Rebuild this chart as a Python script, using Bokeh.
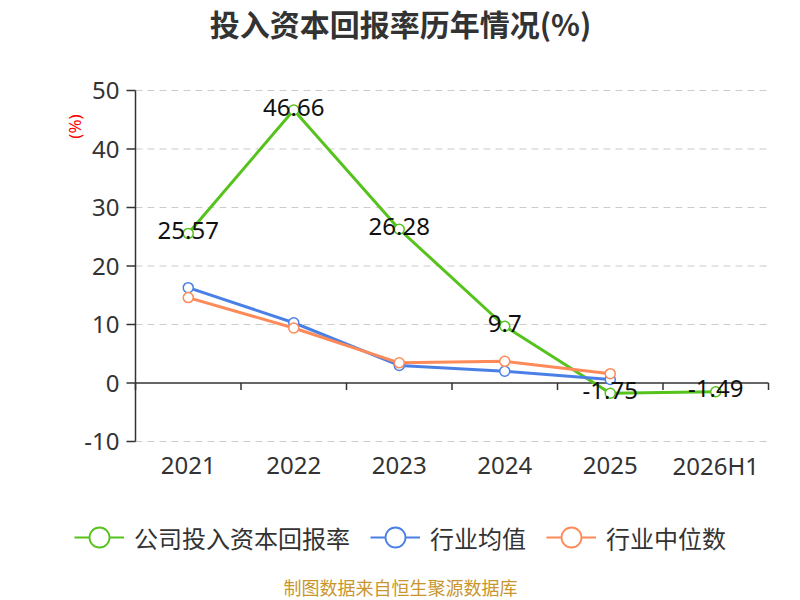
import math
from bokeh.plotting import figure
from bokeh.models import (Range1d, Legend, LegendItem, Label, ColumnDataSource)
from bokeh.embed import file_html
from bokeh.resources import INLINE
from bokeh.core.properties import value

# ---------------- data ----------------
categories = ["2021", "2022", "2023", "2024", "2025", "2026H1"]
company = [25.57, 46.66, 26.28, 9.7, -1.75, -1.49]
industry_avg = [16.3, 10.3, 3.0, 2.0, 0.6]
industry_median = [14.6, 9.4, 3.45, 3.7, 1.6]
y_ticks = [-10, 0, 10, 20, 30, 40, 50]
series_names = ["公司投入资本回报率", "行业均值", "行业中位数"]
title_text = "投入资本回报率历年情况(%)"
footer_text = "制图数据来自恒生聚源数据库"
y_unit = "(%)"

# ---------------- style / layout ----------------
W, H = 800, 600
PLOT_L, PLOT_R, PLOT_T, PLOT_B = 135, 768, 90, 441   # pixel box of the plot area
GREEN = "#56c21c"
BLUE = "#4a80e6"
ORANGE = "#fd8a58"
TXT = "#333333"
LATIN = "Noto Sans"
CJK = "Noto Sans CJK SC"
NAN = float("nan")

ncat = len(categories)
ymin, ymax = min(y_ticks), max(y_ticks)
kx = (PLOT_R - PLOT_L) / ncat          # px per category
ky = (PLOT_B - PLOT_T) / (ymax - ymin)  # px per y unit


def dx(px):
    return (px - PLOT_L) / kx


def dy(py):
    return ymax - (py - PLOT_T) / ky


pos = [i + 0.5 for i in range(ncat)]
bounds = list(range(ncat + 1))

p = figure(width=W, height=H, output_backend="svg", toolbar_location=None,
           x_range=Range1d(dx(0), dx(W)), y_range=Range1d(dy(H), dy(0)),
           x_axis_location=None, y_axis_location=None, min_border=0)
p.outline_line_color = None
p.xgrid.grid_line_color = None
p.ygrid.grid_line_color = None
p.background_fill_color = "white"
p.border_fill_color = "white"

# grid lines (dashed) at the y ticks except the zero axis
grid_y = [t for t in y_ticks if t != 0]
p.segment(x0=[0] * len(grid_y), y0=grid_y, x1=[ncat] * len(grid_y), y1=grid_y,
          line_color="#cccccc", line_width=1.2, line_dash="7 5")

# y axis line, ticks and labels
p.segment(x0=[0], y0=[ymin], x1=[0], y1=[ymax], line_color=TXT, line_width=1.5)
p.segment(x0=[0] * len(y_ticks), y0=y_ticks, x1=[-9 / kx] * len(y_ticks), y1=y_ticks,
          line_color=TXT, line_width=1.5)
p.text(x=[0] * len(y_ticks), y=y_ticks, text=[str(t) for t in y_ticks],
       x_offset=-16, text_align="right", text_baseline="middle",
       text_font=value(LATIN), text_font_size="24px", text_color=TXT)

# zero line with boundary ticks
p.segment(x0=[0], y0=[0], x1=[ncat], y1=[0], line_color=TXT, line_width=1.5)
p.segment(x0=bounds, y0=[0] * len(bounds), x1=bounds, y1=[-7 / ky] * len(bounds),
          line_color=TXT, line_width=1.5)

# category labels
p.text(x=pos, y=[dy(PLOT_B + 24)] * ncat, text=categories, text_align="center",
       text_baseline="middle", text_font=value(LATIN), text_font_size="24px",
       text_color=TXT)

# series
items = []
for vals, color, name in [(company, GREEN, series_names[0]),
                          (industry_avg, BLUE, series_names[1]),
                          (industry_median, ORANGE, series_names[2])]:
    src = ColumnDataSource(dict(x=pos[:len(vals)], y=vals))
    p.line("x", "y", source=src, line_color=color, line_width=3)
    p.scatter("x", "y", source=src, marker="circle", size=10, fill_color="white",
              line_color=color, line_width=1.5)
    lr = p.line(x=[NAN], y=[NAN], line_color=color, line_width=2)
    sr = p.scatter(x=[NAN], y=[NAN], marker="circle", size=20, fill_color="white",
                   line_color=color, line_width=1.8)
    items.append(LegendItem(label=name, renderers=[lr, sr]))

# value labels
lab_src = ColumnDataSource(dict(x=pos, y=company, t=[str(v) for v in company]))
p.text("x", "y", text="t", source=lab_src, text_align="center",
       text_baseline="middle", y_offset=-3, text_font=value(LATIN),
       text_font_size="24px", text_color="#111111")

# title, unit, footer
p.add_layout(Label(x=dx(W / 2), y=dy(22), text=title_text, text_align="center",
                   text_baseline="middle", text_font=CJK, text_font_size="30px",
                   text_font_style="bold", text_color=TXT))
p.add_layout(Label(x=dx(74), y=dy(126), text=y_unit, angle=math.pi / 2,
                   text_align="center", text_baseline="middle", text_font=LATIN,
                   text_font_size="17px", text_color="#ff0000"))
p.add_layout(Label(x=dx(W / 2), y=dy(586), text=footer_text, text_align="center",
                   text_baseline="middle", text_font=CJK, text_font_size="18px",
                   text_color="#c9962e"))

legend = Legend(items=items, orientation="horizontal", location="bottom_center")
legend.label_text_font = CJK
legend.label_text_font_size = "24px"
legend.label_text_color = TXT
legend.glyph_width = 50
legend.glyph_height = 50
legend.label_standoff = 10
legend.spacing = 20
legend.border_line_color = None
legend.background_fill_alpha = 0
legend.padding = 0
legend.margin = 38
p.add_layout(legend)

open("out.html", "w").write(file_html(p, INLINE))
